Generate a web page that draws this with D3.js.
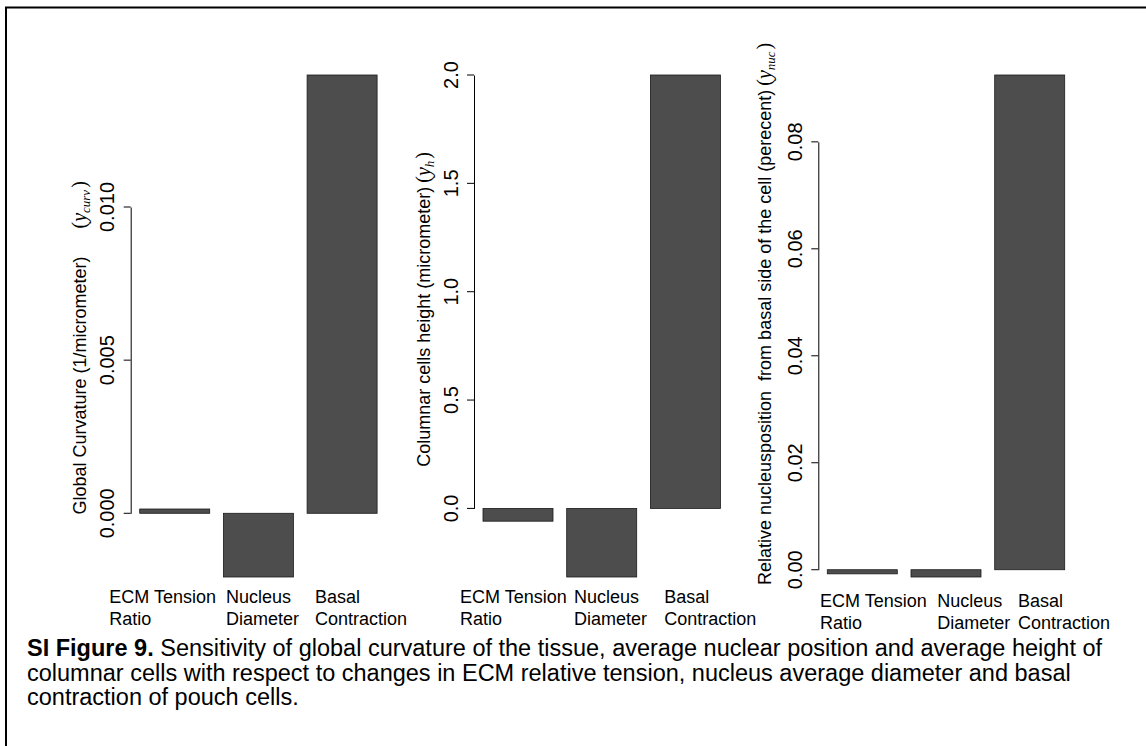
<!DOCTYPE html>
<html>

<head>
    <meta charset="utf-8">
    <title>SI Figure 9</title>
    <script type="text/javascript" src="https://d3js.org/d3.v7.min.js"></script>
    <style>
        body { margin: 0; background: #fff; }
        text { font-family: "Liberation Sans", Arial, Helvetica, sans-serif; white-space: pre; }
    </style>
</head>

<body>
    <svg id="figSvg"></svg>
</body>

<script>
    // data
    let categories = [["ECM Tension", "Ratio"], ["Nucleus", "Diameter"], ["Basal", "Contraction"]];
    let curvatureValues = [0.00014, -0.00208, 0.01431];
    let heightValues = [-0.059, -0.3165, 2.0];
    let nucleusValues = [-0.00077, -0.00136, 0.0925];
    let curvatureTicks = [0, 0.005, 0.010];
    let heightTicks = [0, 0.5, 1.0, 1.5, 2.0];
    let nucleusTicks = [0, 0.02, 0.04, 0.06, 0.08];
    let captionLines = [
        ["SI Figure 9.", " Sensitivity of global curvature of the tissue, average nuclear position and average height of"],
        ["", "columnar cells with respect to changes in ECM relative tension, nucleus average diameter and basal"],
        ["", "contraction of pouch cells."]
    ];
</script>

<script>
    let SVGWIDTH = 1146,
        SVGHEIGHT = 746,
        plotTop = 75,
        plotBottom = 577,
        barColor = "#4d4d4d";

    let svg = d3.select("#figSvg").attr("width", SVGWIDTH).attr("height", SVGHEIGHT);

    // frame of the figure box (right / bottom edges fall outside the picture)
    svg.append("rect")
        .attr("x", 6).attr("y", 7.5)
        .attr("width", 1300).attr("height", 900)
        .attr("fill", "none").attr("stroke", "#000").attr("stroke-width", 2);

    let panels = [
        {
            values: curvatureValues, ticks: curvatureTicks, fmt: ".3f", axisX: 130.7,
            labelDx: [-21.4, 95.3, 184.3], labelDy: 0,
            ylabel: "Global Curvature (1/micrometer)", sub: "curv", gap: 28, ylabX: -50.7, ylabY: 514.6
        },
        {
            values: heightValues, ticks: heightTicks, fmt: ".1f", axisX: 474,
            labelDx: [-14, 100, 190.3], labelDy: 0,
            ylabel: "Columnar cells height (micrometer)", sub: "h", gap: 4, ylabX: -50.5, ylabY: 466.8
        },
        {
            values: nucleusValues, ticks: nucleusTicks, fmt: ".2f", axisX: 818.3,
            labelDx: [1.7, 119, 199.7], labelDy: 4,
            ylabel: "Relative nucleusposition  from basal side of the cell (perecent)", sub: "nuc", gap: 4, ylabX: -54, ylabY: 585
        }
    ];

    function drawBarchart(p) {
        let g = svg.append("g");
        let yScale = d3.scaleLinear()
            .domain(d3.extent(p.values.concat([0])))
            .range([plotBottom, plotTop]);
        let xScale = d3.scaleBand()
            .domain(d3.range(p.values.length))
            .range([p.axisX + 9, p.axisX + 246.4])
            .paddingInner(0.1637).paddingOuter(0);

        // bars
        g.selectAll(".bar")
            .data(p.values)
            .enter().append("rect")
            .attr("class", "bar")
            .attr("x", (d, i) => xScale(i))
            .attr("width", xScale.bandwidth())
            .attr("y", d => yScale(Math.max(0, d)))
            .attr("height", d => Math.abs(yScale(d) - yScale(0)))
            .attr("fill", barColor)
            .attr("stroke", "#1a1a1a")
            .attr("stroke-width", 0.8);

        // y axis only spans the tick range, as in R
        let t0 = p.ticks[0], t1 = p.ticks[p.ticks.length - 1];
        let axisScale = d3.scaleLinear().domain([t0, t1]).range([yScale(t0), yScale(t1)]);
        let axis = g.append("g")
            .attr("transform", "translate(" + p.axisX + ",0)")
            .call(d3.axisLeft(axisScale).tickValues(p.ticks).tickSize(7).tickSizeOuter(0).tickFormat(d3.format(p.fmt)));
        axis.selectAll("path, line").attr("stroke", "#000").attr("stroke-width", 1);
        axis.selectAll("text")
            .attr("x", 0).attr("y", 0)
            .attr("transform", d => "translate(-23.5," + axisScale(d) + ") rotate(-90)")
            .attr("dy", "0.35em")
            .attr("text-anchor", "middle")
            .style("font-size", "20px")
            .style("font-family", "'Liberation Sans', Arial, sans-serif")
            .attr("fill", "#000");
        // undo d3's own y offset on tick groups for the rotated labels
        axis.selectAll(".tick").attr("transform", "translate(0,0)");
        axis.selectAll(".tick line").attr("transform", d => "translate(0," + axisScale(d) + ")");

        // y axis title with the math symbol
        let serif = "'Liberation Serif', 'Times New Roman', serif";
        let ylab = g.append("text")
            .attr("transform", "translate(" + (p.axisX + p.ylabX) + "," + p.ylabY + ") rotate(-90)")
            .attr("dy", "0.35em")
            .style("font-size", "18px")
            .attr("fill", "#000");
        ylab.append("tspan").text(p.ylabel);
        ylab.append("tspan").attr("dx", p.gap)
            .style("font-family", serif).style("font-size", "20px").text("(");
        ylab.append("tspan")
            .style("font-family", serif).style("font-style", "italic").style("font-size", "20px").text("y");
        ylab.append("tspan").attr("dy", 4)
            .style("font-family", serif).style("font-style", "italic").style("font-size", "13px").text(p.sub);
        ylab.append("tspan").attr("dy", -4).attr("dx", 2)
            .style("font-family", serif).style("font-size", "20px").text(")");

        // category names, two lines, left aligned
        let names = g.selectAll(".catname")
            .data(categories)
            .enter().append("text")
            .attr("class", "catname")
            .attr("x", (d, i) => p.axisX + p.labelDx[i])
            .attr("y", 603 + p.labelDy)
            .style("font-size", "18px")
            .attr("fill", "#000");
        names.append("tspan").text(d => d[0]);
        names.append("tspan")
            .attr("x", (d, i) => p.axisX + p.labelDx[i])
            .attr("dy", 21.5)
            .text(d => d[1]);
    }

    panels.forEach(drawBarchart);

    // caption
    let caption = svg.append("g");
    captionLines.forEach(function (line, i) {
        let t = caption.append("text")
            .attr("x", 27)
            .attr("y", 656 + i * 24.5)
            .style("font-size", "23.5px")
            .attr("fill", "#000");
        if (line[0]) t.append("tspan").style("font-weight", "bold").text(line[0]);
        t.append("tspan").text(line[1]);
    });
</script>

</html>
